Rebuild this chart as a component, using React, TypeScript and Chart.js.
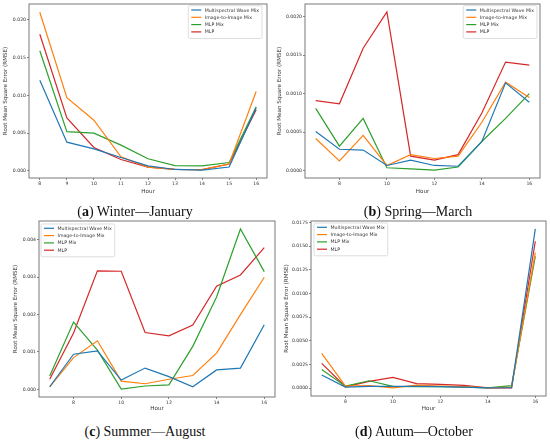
import React, { useEffect, useRef } from "react";
import { Chart, registerables } from "chart.js";

Chart.register(...registerables);

// ---------- data ----------
const SERIES_NAMES = ["Multispectral Wave Mix", "Image-to-Image Mix", "MLP Mix", "MLP"];
const SERIES_COLORS = ["#1f77b4", "#ff7f0e", "#2ca02c", "#d62728"];

const HOURS_WINTER = [8, 9, 10, 11, 12, 13, 14, 15, 16];
const HOURS_OTHER = [7, 8, 9, 10, 11, 12, 13, 14, 15, 16];

const WINTER_MSWM = [0.012, 0.0038, 0.0029, 0.00176, 0.00066, 0.00018, 0.0001, 0.0005, 0.00835];
const WINTER_I2I = [0.021, 0.0097, 0.0067, 0.00185, 0.0005, 0.00018, 0.00015, 0.0009, 0.0105];
const WINTER_MLPMIX = [0.0159, 0.0052, 0.005, 0.0034, 0.0016, 0.0007, 0.00066, 0.0011, 0.0085];
const WINTER_MLP = [0.0181, 0.007, 0.0031, 0.0015, 0.0005, 0.00018, 0.00015, 0.0009, 0.0081];

const SPRING_MSWM = [0.00051, 0.00028, 0.00027, 0.00007, 0.00014, 0.00007, 0.00006, 0.00038, 0.00114, 0.00089];
const SPRING_I2I = [0.00042, 0.00013, 0.00046, 0.00007, 0.00021, 0.00016, 0.00019, 0.00063, 0.00115, 0.00095];
const SPRING_MLPMIX = [0.00081, 0.00032, 0.00068, 0.00004, 0.000025, 0.00001, 0.00005, 0.00038, 0.00068, 0.001];
const SPRING_MLP = [0.00091, 0.00087, 0.00159, 0.00206, 0.00019, 0.00014, 0.00021, 0.00075, 0.00141, 0.00137];

const SUMMER_MSWM = [0.00007, 0.00094, 0.00103, 0.00025, 0.00057, 0.00034, 0.00007, 0.00052, 0.00057, 0.00173];
const SUMMER_I2I = [0.00007, 0.00085, 0.0013, 0.00022, 0.00015, 0.00027, 0.00037, 0.00097, 0.002, 0.003];
const SUMMER_MLPMIX = [0.00036, 0.0018, 0.00105, 0.00001, 0.00009, 0.00012, 0.00115, 0.00247, 0.00429, 0.00315];
const SUMMER_MLP = [0.00027, 0.00151, 0.00317, 0.00316, 0.00152, 0.00143, 0.00172, 0.00276, 0.00306, 0.00379];

const AUTUMN_MSWM = [0.00137, 0.0001, 0.00018, 0.00018, 0.00018, 0.00014, 0.0001, 0.00001, 0.00003, 0.0168];
const AUTUMN_I2I = [0.00366, 0.0002, 0.00025, 0.00002, 0.0003, 0.0002, 0.00014, 0.00001, 0.0001, 0.0143];
const AUTUMN_MLPMIX = [0.00197, 0.0002, 0.00077, 0.00018, 0.00015, 0.00014, 0.0001, 0.00001, 0.00025, 0.0139];
const AUTUMN_MLP = [0.0026, 0.00014, 0.0007, 0.00113, 0.00046, 0.00039, 0.00028, 0.00001, 0.00001, 0.0155];

const X_TICKS_WINTER = [8, 9, 10, 11, 12, 13, 14, 15, 16];
const X_TICKS_OTHER = [8, 10, 12, 14, 16];

const Y_TICKS_WINTER = [0, 0.005, 0.01, 0.015, 0.02];
const Y_LABELS_WINTER = ["0.000", "0.005", "0.010", "0.015", "0.020"];
const Y_TICKS_SPRING = [0, 0.0005, 0.001, 0.0015, 0.002];
const Y_LABELS_SPRING = ["0.0000", "0.0005", "0.0010", "0.0015", "0.0020"];
const Y_TICKS_SUMMER = [0, 0.001, 0.002, 0.003, 0.004];
const Y_LABELS_SUMMER = ["0.000", "0.001", "0.002", "0.003", "0.004"];
const Y_TICKS_AUTUMN = [0, 0.0025, 0.005, 0.0075, 0.01, 0.0125, 0.015, 0.0175];
const Y_LABELS_AUTUMN = ["0.0000", "0.0025", "0.0050", "0.0075", "0.0100", "0.0125", "0.0150", "0.0175"];

const X_TITLE = "Hour";
const Y_TITLE = "Root Mean Square Error (RMSE)";

// ---------- plugins ----------
const FONT = "'DejaVu Sans', sans-serif";
const TEXT_COLOR = "#333";

const framePlugin = {
  id: "mplFrame",
  afterDatasetsDraw(chart: any) {
    const { ctx, chartArea } = chart;
    ctx.save();
    ctx.strokeStyle = "#6a6a6a";
    ctx.lineWidth = 0.9;
    ctx.strokeRect(chartArea.left, chartArea.top, chartArea.right - chartArea.left, chartArea.bottom - chartArea.top);
    ctx.restore();
  },
};

const legendPlugin = {
  id: "mplLegend",
  afterDraw(chart: any, _args: any, opts: any) {
    const { ctx, chartArea } = chart;
    const datasets = chart.data.datasets;
    ctx.save();
    ctx.font = `4.7px ${FONT}`;
    let maxW = 0;
    datasets.forEach((d: any) => {
      maxW = Math.max(maxW, ctx.measureText(d.label).width);
    });
    const pad = 3;
    const handle = 10;
    const gap = 3.5;
    const rowH = 7.3;
    const w = pad + handle + gap + maxW + pad;
    const h = 3.8 + rowH * datasets.length - 0.2;
    const left = opts.corner === "tr" ? chartArea.right - opts.dx - w : chartArea.left + opts.dx;
    const top = chartArea.top + opts.dy;
    ctx.fillStyle = "rgba(255,255,255,0.85)";
    ctx.strokeStyle = "#d0d0d0";
    ctx.lineWidth = 0.7;
    ctx.beginPath();
    const r = 1.5;
    ctx.moveTo(left + r, top);
    ctx.lineTo(left + w - r, top);
    ctx.quadraticCurveTo(left + w, top, left + w, top + r);
    ctx.lineTo(left + w, top + h - r);
    ctx.quadraticCurveTo(left + w, top + h, left + w - r, top + h);
    ctx.lineTo(left + r, top + h);
    ctx.quadraticCurveTo(left, top + h, left, top + h - r);
    ctx.lineTo(left, top + r);
    ctx.quadraticCurveTo(left, top, left + r, top);
    ctx.closePath();
    ctx.fill();
    ctx.stroke();
    datasets.forEach((d: any, i: number) => {
      const cy = top + 4.3 + i * rowH;
      ctx.strokeStyle = d.borderColor;
      ctx.lineWidth = 1.2;
      ctx.beginPath();
      ctx.moveTo(left + pad, cy);
      ctx.lineTo(left + pad + handle, cy);
      ctx.stroke();
      ctx.fillStyle = TEXT_COLOR;
      ctx.textBaseline = "middle";
      ctx.textAlign = "left";
      ctx.fillText(d.label, left + pad + handle + gap, cy + 0.3);
    });
    ctx.restore();
  },
};

// ---------- panel ----------
type PanelProps = {
  x: number;
  y: number;
  w: number;
  h: number;
  hours: number[];
  series: number[][];
  xMin: number;
  xMax: number;
  xTicks: number[];
  yMin: number;
  yMax: number;
  yTicks: number[];
  yLabels: string[];
  yAxisW: number;
  xAxisH: number;
  padTop: number;
  padRight: number;
  yTitlePad: number;
  xTitlePad: number;
  corner: string;
  lx: number;
  ly: number;
};

function Panel(p: PanelProps) {
  const ref = useRef<HTMLCanvasElement | null>(null);
  useEffect(() => {
    if (!ref.current) return;
    const tickFont = { family: FONT, size: 4.6 };
    const titleFont = { family: FONT, size: 5.6 };
    const chart = new Chart(ref.current, {
      type: "line",
      data: {
        datasets: p.series.map((s, i) => ({
          label: SERIES_NAMES[i],
          data: p.hours.map((hr, j) => ({ x: hr, y: s[j] })),
          borderColor: SERIES_COLORS[i],
          backgroundColor: SERIES_COLORS[i],
          borderWidth: 1.2,
          pointRadius: 0,
          tension: 0,
          fill: false,
        })),
      },
      options: {
        responsive: false,
        animation: false,
        devicePixelRatio: window.devicePixelRatio || 1,
        layout: { padding: { top: p.padTop, right: p.padRight, bottom: 0, left: 0 } },
        plugins: {
          legend: { display: false },
          tooltip: { enabled: false },
          mplLegend: { corner: p.corner, dx: p.lx, dy: p.ly },
        } as any,
        scales: {
          x: {
            type: "linear",
            min: p.xMin,
            max: p.xMax,
            afterBuildTicks: (scale: any) => {
              scale.ticks = p.xTicks.map((v) => ({ value: v }));
            },
            afterFit: (scale: any) => {
              scale.height = p.xAxisH;
            },
            ticks: {
              font: tickFont,
              color: TEXT_COLOR,
              padding: 1,
              maxRotation: 0,
              autoSkip: false,
              callback: (v: any) => String(v),
            },
            grid: { drawOnChartArea: false, drawTicks: true, tickLength: 2, color: "#555", lineWidth: 0.7 },
            border: { display: false },
            title: {
              display: true,
              text: X_TITLE,
              font: titleFont,
              color: TEXT_COLOR,
              padding: { top: 0, bottom: p.xTitlePad },
            },
          },
          y: {
            type: "linear",
            min: p.yMin,
            max: p.yMax,
            afterBuildTicks: (scale: any) => {
              scale.ticks = p.yTicks.map((v) => ({ value: v }));
            },
            afterFit: (scale: any) => {
              scale.width = p.yAxisW;
            },
            ticks: {
              font: tickFont,
              color: TEXT_COLOR,
              padding: 1,
              autoSkip: false,
              callback: (v: any) => {
                const i = p.yTicks.findIndex((t) => Math.abs(t - v) < 1e-12);
                return i >= 0 ? p.yLabels[i] : "";
              },
            },
            grid: { drawOnChartArea: false, drawTicks: true, tickLength: 2, color: "#555", lineWidth: 0.7 },
            border: { display: false },
            title: {
              display: true,
              text: Y_TITLE,
              font: titleFont,
              color: TEXT_COLOR,
              padding: { top: p.yTitlePad, bottom: 0 },
            },
          },
        },
      } as any,
      plugins: [framePlugin, legendPlugin],
    });
    return () => chart.destroy();
  }, []);
  return (
    <canvas
      ref={ref}
      width={p.w}
      height={p.h}
      style={{ position: "absolute", left: p.x, top: p.y, width: p.w, height: p.h }}
    />
  );
}

function Caption({ cx, cy, letter, text }: { cx: number; cy: number; letter: string; text: string }) {
  return (
    <div
      style={{
        position: "absolute",
        left: cx - 110,
        top: cy - 9,
        width: 220,
        height: 18,
        lineHeight: "18px",
        textAlign: "center",
        fontFamily: "'Liberation Serif', serif",
        fontSize: 14,
        color: "#111",
        whiteSpace: "nowrap",
      }}
    >
      (<b>{letter}</b>) {text}
    </div>
  );
}

export default function App() {
  return (
    <div style={{ position: "absolute", left: 0, top: 0, width: 550, height: 442, background: "#fff", overflow: "hidden" }}>
      <Panel
        x={0}
        y={0}
        w={272}
        h={196}
        hours={HOURS_WINTER}
        series={[WINTER_MSWM, WINTER_I2I, WINTER_MLPMIX, WINTER_MLP]}
        xMin={7.6}
        xMax={16.4}
        xTicks={X_TICKS_WINTER}
        yMin={-0.00095}
        yMax={0.0221}
        yTicks={Y_TICKS_WINTER}
        yLabels={Y_LABELS_WINTER}
        yAxisW={29}
        xAxisH={18}
        padTop={4}
        padRight={5}
        yTitlePad={2.4}
        xTitlePad={1.4}
        corner="tr"
        lx={5}
        ly={1.7}
      />
      <Panel
        x={275}
        y={0}
        w={275}
        h={196}
        hours={HOURS_OTHER}
        series={[SPRING_MSWM, SPRING_I2I, SPRING_MLPMIX, SPRING_MLP]}
        xMin={6.55}
        xMax={16.45}
        xTicks={X_TICKS_OTHER}
        yMin={-0.0000925}
        yMax={0.0021625}
        yTicks={Y_TICKS_SPRING}
        yLabels={Y_LABELS_SPRING}
        yAxisW={30}
        xAxisH={18}
        padTop={4}
        padRight={10}
        yTitlePad={1.4}
        xTitlePad={1.4}
        corner="tr"
        lx={3}
        ly={1.7}
      />
      <Panel
        x={0}
        y={215}
        w={278}
        h={198}
        hours={HOURS_OTHER}
        series={[SUMMER_MSWM, SUMMER_I2I, SUMMER_MLPMIX, SUMMER_MLP]}
        xMin={6.55}
        xMax={16.45}
        xTicks={X_TICKS_OTHER}
        yMin={-0.000204}
        yMax={0.004504}
        yTicks={Y_TICKS_SUMMER}
        yLabels={Y_LABELS_SUMMER}
        yAxisW={39}
        xAxisH={16}
        padTop={6}
        padRight={3}
        yTitlePad={12.4}
        xTitlePad={1.4}
        corner="tl"
        lx={2}
        ly={3}
      />
      <Panel
        x={275}
        y={215}
        w={275}
        h={198}
        hours={HOURS_OTHER}
        series={[AUTUMN_MSWM, AUTUMN_I2I, AUTUMN_MLPMIX, AUTUMN_MLP]}
        xMin={6.55}
        xMax={16.45}
        xTicks={X_TICKS_OTHER}
        yMin={-0.00084}
        yMax={0.01764}
        yTicks={Y_TICKS_AUTUMN}
        yLabels={Y_LABELS_AUTUMN}
        yAxisW={36}
        xAxisH={17}
        padTop={6}
        padRight={4}
        yTitlePad={8}
        xTitlePad={1.4}
        corner="tl"
        lx={3}
        ly={2}
      />
      <Caption cx={135} cy={212} letter="a" text="Winter—January" />
      <Caption cx={418} cy={212} letter="b" text="Spring—March" />
      <Caption cx={145} cy={432} letter="c" text="Summer—August" />
      <Caption cx={414} cy={432} letter="d" text="Autum—October" />
    </div>
  );
}
